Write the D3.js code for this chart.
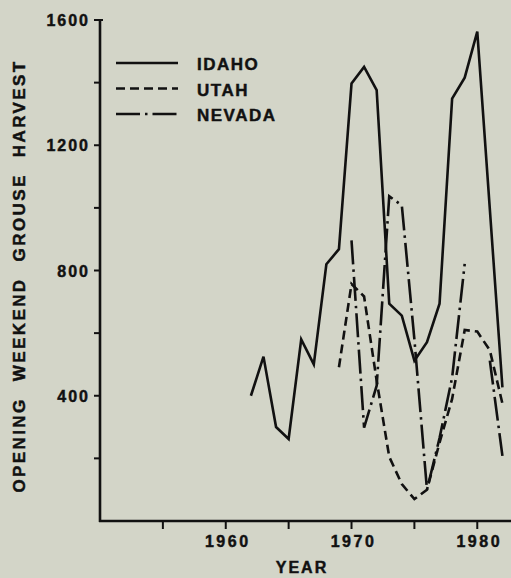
<!DOCTYPE html>
<html>
<head>
<meta charset="utf-8">
<script src="https://cdn.jsdelivr.net/npm/d3@7"></script>
<style>
  body { margin: 0; background: #d3d5c8; }
  svg { display: block; font-family: "Liberation Sans", Arial, sans-serif; font-weight: bold; }
  text { stroke: #111; stroke-width: 0.45; }
</style>
</head>
<body>
<svg id="chart" width="511" height="578"></svg>
<script>
// opening weekend sage grouse harvest
var idahoYears = [1962, 1963, 1964, 1965, 1966, 1967, 1968, 1969, 1970, 1971, 1972,
                  1973, 1974, 1975, 1976, 1977, 1978, 1979, 1980, 1981, 1982];
var idahoHarvest = [400, 525, 300, 262, 580, 500, 820, 868, 1397, 1450, 1376,
                    694, 656, 512, 571, 694, 1349, 1416, 1563, 995, 427];

var utahYears = [1969, 1970, 1971, 1972, 1973, 1974, 1975, 1976, 1977, 1978, 1979, 1980, 1981, 1982];
var utahHarvest = [491, 757, 717, 448, 205, 118, 70, 100, 250, 390, 610, 605, 545, 375];

var nevadaYears = [1970, 1971, 1972, 1973, 1974, 1975, 1976, 1977, 1978, 1979, 1980, 1981, 1982];
var nevadaHarvest = [896, 298, 432, 1037, 1008, 580, 100, 265, 458, 821, null, 512, 208];

var states = ["IDAHO", "UTAH", "NEVADA"];
var yTicks = [200, 400, 600, 800, 1000, 1200, 1400, 1600];
var yLabels = [400, 800, 1200, 1600];
var xTicks = [1955, 1960, 1965, 1970, 1975, 1980];
var xLabels = [1960, 1970, 1980];

var svg = d3.select("#chart");

var x = d3.scaleLinear().domain([1950, 1983]).range([100, 515]);
var y = d3.scaleLinear().domain([0, 1600]).range([521, 20]);

var dashes = { IDAHO: null, UTAH: "9,5", NEVADA: "24,5,2.5,5" };

var series = [
    { name: "IDAHO", values: d3.zip(idahoYears, idahoHarvest) },
    { name: "UTAH", values: d3.zip(utahYears, utahHarvest) },
    { name: "NEVADA", values: d3.zip(nevadaYears, nevadaHarvest) }
];

// axes
svg.append("line")
    .attr("x1", x(1950)).attr("x2", x(1950))
    .attr("y1", y(1600) - 1).attr("y2", y(0) + 1)
    .attr("stroke", "#111").attr("stroke-width", 2.6);
svg.append("line")
    .attr("x1", x(1950) - 1).attr("x2", 511)
    .attr("y1", y(0)).attr("y2", y(0))
    .attr("stroke", "#111").attr("stroke-width", 2.6);
// small hook at the top of the y axis
svg.append("line")
    .attr("x1", x(1950)).attr("x2", x(1950) + 3)
    .attr("y1", y(1600)).attr("y2", y(1600))
    .attr("stroke", "#111").attr("stroke-width", 2);

svg.append("g")
    .selectAll("line")
    .data(yTicks)
    .enter()
    .append("line")
        .attr("x1", x(1950) - 6).attr("x2", x(1950))
        .attr("y1", d => y(d)).attr("y2", d => y(d))
        .attr("stroke", "#111").attr("stroke-width", 2);

svg.append("g")
    .selectAll("text")
    .data(yLabels)
    .enter()
    .append("text")
        .attr("x", 90)
        .attr("y", d => y(d) + 6)
        .attr("text-anchor", "end")
        .attr("font-size", 16)
        .attr("letter-spacing", 2)
        .attr("fill", "#111")
        .text(d => d);

svg.append("g")
    .selectAll("line")
    .data(xTicks)
    .enter()
    .append("line")
        .attr("x1", d => x(d)).attr("x2", d => x(d))
        .attr("y1", y(0)).attr("y2", y(0) + 8)
        .attr("stroke", "#111").attr("stroke-width", 2);

svg.append("g")
    .selectAll("text")
    .data(xLabels)
    .enter()
    .append("text")
        .attr("x", d => x(d) + 2)
        .attr("y", 547)
        .attr("text-anchor", "middle")
        .attr("font-size", 16)
        .attr("letter-spacing", 2.5)
        .attr("fill", "#111")
        .text(d => d);

svg.append("text")
    .attr("x", 302).attr("y", 573)
    .attr("text-anchor", "middle")
    .attr("font-size", 16)
    .attr("letter-spacing", 2)
    .attr("fill", "#111")
    .text("YEAR");

svg.append("text")
    .attr("transform", "translate(25,276) rotate(-90)")
    .attr("text-anchor", "middle")
    .attr("font-size", 17)
    .attr("letter-spacing", 2.4)
    .attr("word-spacing", 9)
    .attr("fill", "#111")
    .text("OPENING WEEKEND GROUSE HARVEST");

// data lines
var line = d3.line()
    .defined(d => d[1] != null)
    .x(d => x(d[0]))
    .y(d => y(d[1]));

svg.append("g")
    .selectAll("path")
    .data(series)
    .enter()
    .append("path")
        .attr("d", d => line(d.values))
        .attr("fill", "none")
        .attr("stroke", "#111")
        .attr("stroke-width", 2.6)
        .attr("stroke-linejoin", "miter")
        .attr("stroke-dasharray", d => dashes[d.name]);

// legend
var legend = svg.append("g")
    .selectAll("g")
    .data(states)
    .enter()
    .append("g")
        .attr("transform", (d, i) => "translate(116," + (63 + i * 25.5) + ")");

legend.append("line")
    .attr("x1", 0).attr("x2", 62)
    .attr("stroke", "#111")
    .attr("stroke-width", 2.6)
    .attr("stroke-dasharray", d => dashes[d]);

legend.append("text")
    .attr("x", 81).attr("y", 7)
    .attr("font-size", 17)
    .attr("letter-spacing", 1.5)
    .attr("fill", "#111")
    .text(d => d);
</script>
</body>
</html>
